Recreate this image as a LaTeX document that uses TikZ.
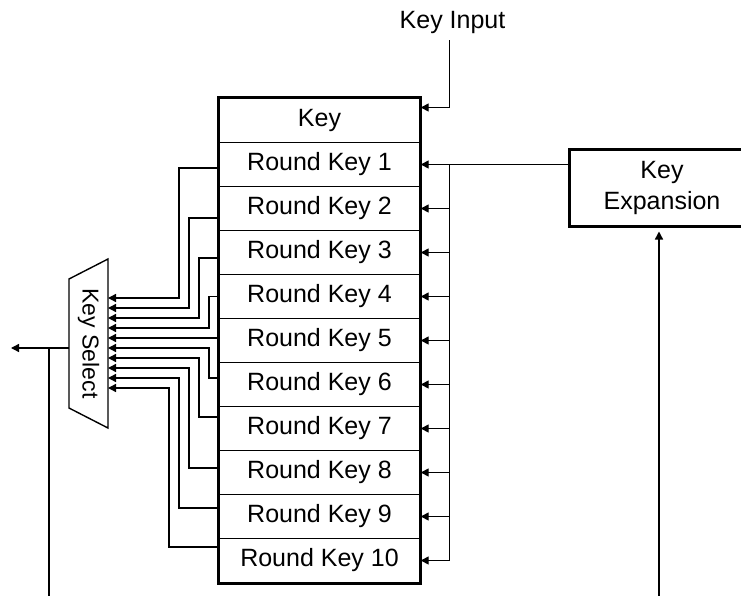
\documentclass[tikz,border=0pt]{standalone}
\usepackage{fontspec}
\setmainfont{Liberation Sans}
\usetikzlibrary{arrows.meta,calc,positioning}
\newcommand{\lblfont}{\fontsize{12.5}{15.5}\selectfont}
\tikzset{cell/.style={draw,line width=0.7pt,minimum width=100.5pt,minimum height=22pt,inner sep=0pt,font=\lblfont},
  frame/.style={line width=1.5pt},
  wire/.style={line width=0.7pt},
  arr/.style={wire,-{Triangle[length=4pt,width=4pt]}}}
\begin{document}
\begin{tikzpicture}[x=0.5pt,y=-0.5pt]
\useasboundingbox (0,0) rectangle (741,596);
\fill[white] (0,0) rectangle (741,596);
\node[cell] (key) at (319.5,120.5) {Key};
\foreach \i in {1,...,10}
  \node[cell] (rk\i) at (319.5,120.5+44*\i) {Round Key \i};
\draw[frame] (key.north west) rectangle (rk10.south east);
\node[font=\lblfont] (kin) at (452.5,22) {Key Input};
\node[draw,frame,minimum width=93pt,minimum height=38.5pt,align=center,font=\lblfont] (kexp) at (662,187.5) {Key\\Expansion};
\coordinate (bus) at (449.5,164.5);
\draw[arr] (kin.south -| bus) |- ([yshift=6.5pt]key.east);
\draw[wire] (kexp.west |- bus) -- (bus) -- (bus |- rk10.east);
\foreach \i in {1,...,10}
  \draw[arr] (bus |- rk\i.east) -- (rk\i.east);
\coordinate (eb) at (659,596);
\draw[arr,shorten >=2pt] (eb) -- (kexp.south -| eb);
\node[rotate=-90,font=\fontsize{11.5}{14}\selectfont,minimum width=84.5pt,minimum height=19.5pt,inner sep=0pt] (ksel) at (88.5,343.5) {Key Select};
\draw[wire] (69,279) -- (108,259) -- (108,428) -- (69,408) -- cycle;
\foreach \i in {1,...,10}
  \coordinate (in\i) at (108,288+10*\i);
\foreach \i/\dy/\dx in {1/-1.75pt/35.5pt,2/-4.75pt/40.5pt,3/-2.75pt/45.5pt,4/0pt/50.5pt,5/1.25pt/55.5pt,
    6/3.25pt/50.5pt,7/5.75pt/45.5pt,8/2.25pt/40.5pt,9/4.25pt/35.5pt,10/6.75pt/30.5pt}
  \draw[arr] ([yshift=\dy]rk\i.west) -| ([xshift=\dx]in\i) -- (in\i);
\coordinate (kout) at (11,348);
\draw[arr] (ksel.south |- kout) -- (kout);
\coordinate (kb) at (49,596);
\draw[wire] (kb) -- (kb |- kout);
\end{tikzpicture}
\end{document}
